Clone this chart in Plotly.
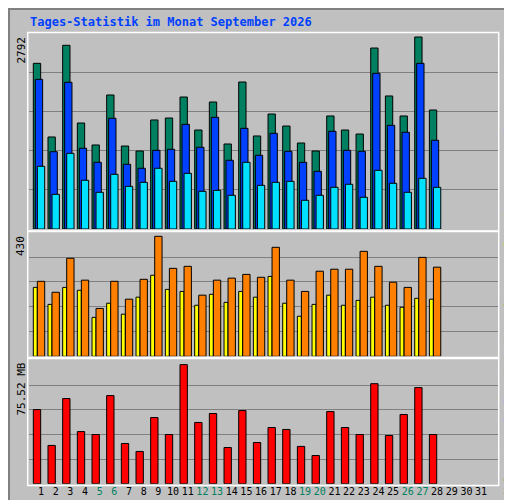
import plotly.graph_objects as go

days = list(range(1, 29))
all_days = list(range(1, 32))
weekend = {5, 6, 12, 13, 19, 20, 26, 27}

anfragen = [2360,1311,2617,1510,1197,1909,1182,1111,1553,1581,1880,1410,1809,1211,2094,1325,1638,1467,1225,1111,1610,1410,1353,2578,1895,1610,2735,1695]
dateien = [2132,1101,2090,1150,950,1577,922,865,1121,1135,1491,1164,1591,979,1434,1050,1363,1107,950,822,1392,1121,1107,2218,1477,1378,2360,1264]
seiten = [893,494,1078,694,523,779,608,665,865,679,793,537,551,480,950,622,665,679,409,480,594,637,452,836,651,523,722,594]
rechner = [260,222,340,264,166,260,198,267,416,305,312,212,264,271,284,274,378,264,225,295,302,302,364,312,257,239,343,309]
besuche = [239,180,239,229,135,184,146,205,281,232,225,177,215,187,225,205,277,184,139,180,212,177,194,205,177,170,201,198]
volumen = [45.5,23.5,52.3,32.0,30.2,54.1,24.7,19.8,40.6,30.2,73.1,37.6,43.1,22.2,44.9,25.3,34.5,33.3,22.9,17.3,44.3,34.5,30.2,61.4,29.6,42.5,59.0,30.2]
max_top, max_mid, max_bot = 2792, 430, 75.52

W, H = 512, 500
def py(y): return 1 - y / H
xl, xr = 20.7, 490.7
xdom = [xl / W, xr / W]
xrange = [0.16, 32.2]
FONT = "DejaVu Sans Mono"

fig = go.Figure()
def bar(y, color, off, wid, ax):
    fig.add_trace(go.Bar(x=days, y=y, offset=off, width=wid, marker_color=color,
                         marker_line_color="black", marker_line_width=1,
                         xaxis=ax[0], yaxis=ax[1], showlegend=False))

bar(anfragen, "#008060", -0.525, 0.5, ("x", "y"))
bar(dateien, "#0040FF", -0.39, 0.5, ("x", "y"))
bar(seiten, "#00E0FF", -0.25, 0.5, ("x", "y"))
bar(besuche, "#FFFF00", -0.525, 0.27, ("x2", "y2"))
bar(rechner, "#FF8000", -0.25, 0.5, ("x2", "y2"))
bar(volumen, "#FF0000", -0.525, 0.5, ("x3", "y3"))

ticktext = [f'<span style="color:{"#008060" if d in weekend else "black"}">{d}</span>' for d in all_days]

def xa(show):
    return dict(domain=xdom, range=xrange, showgrid=False, zeroline=False, automargin=False,
                showticklabels=show, tickvals=all_days, ticktext=ticktext, tickangle=0,
                ticks="", ticklen=0, tickfont=dict(family=FONT, size=10))
def ya(dom, mx, anchor):
    return dict(domain=dom, range=[0, mx], tickvals=[mx * i / 5 for i in range(1, 5)], automargin=False,
                showticklabels=False, gridcolor="#808080", gridwidth=1, zeroline=False, anchor=anchor)

fig.update_layout(
    width=W, height=H, autosize=False, margin=dict(l=0, r=0, t=0, b=0, pad=0),
    paper_bgcolor="#C0C0C0", plot_bgcolor="#C0C0C0", barmode="overlay",
    font=dict(family=FONT, size=11),
    xaxis=dict(**xa(False), anchor="y"),
    xaxis2=dict(**xa(False), anchor="y2"),
    xaxis3=dict(**xa(True), anchor="y3"),
    yaxis=ya([py(221), py(25)], max_top, "x"),
    yaxis2=ya([py(348.3), py(224.3)], max_mid, "x2"),
    yaxis3=ya([py(475.7), py(352.7)], max_bot, "x3"),
)

shapes = [dict(type="rect", xref="paper", yref="paper", x0=0.002, x1=0.998, y0=0.002, y1=0.998,
               line=dict(color="#808080", width=2))]
for top, bot in [(24.5, 223), (223.5, 349.5), (350.5, 477.5)]:
    shapes.append(dict(type="rect", xref="paper", yref="paper", x0=(xl - 1) / W, x1=xr / W,
                       y0=py(bot), y1=py(top), line=dict(color="white", width=1.5)))
fig.update_layout(shapes=shapes)

ann = [dict(text="<b>Tages-Statistik im Monat September 2026</b>", x=20 / W, y=py(14),
            xref="paper", yref="paper", xanchor="left", yanchor="middle", showarrow=False,
            font=dict(family=FONT, size=12, color="#0040FF"))]
for lab, ytop in [(str(max_top), 27), (str(max_mid), 226), (f"{max_bot} MB", 353)]:
    ann.append(dict(text=lab, textangle=-90, x=13 / W, y=py(ytop), xref="paper", yref="paper",
                    xanchor="center", yanchor="top", showarrow=False, font=dict(family=FONT, size=11, color="black")))
legend = ('<span style="color:#FF0000">Volumen</span> / <span style="color:#0040FF">Vol. In</span> / '
          '<span style="color:#008060">Vol. Out</span> / <span style="color:#FF8000">Rechner</span> / '
          '<span style="color:#FFFF00">Besuche</span> / <span style="color:#00E0FF">Seiten</span> / '
          '<span style="color:#0040FF">Dateien</span> / <span style="color:#008060">Anfragen</span>')
ann.append(dict(text=legend, textangle=-90, x=500 / W, y=0.5 * (py(477) + py(25)), xref="paper", yref="paper",
                xanchor="center", yanchor="middle", showarrow=False, font=dict(family=FONT, size=10, color="#808080")))
fig.update_layout(annotations=ann)
fig.write_html("out.html")
